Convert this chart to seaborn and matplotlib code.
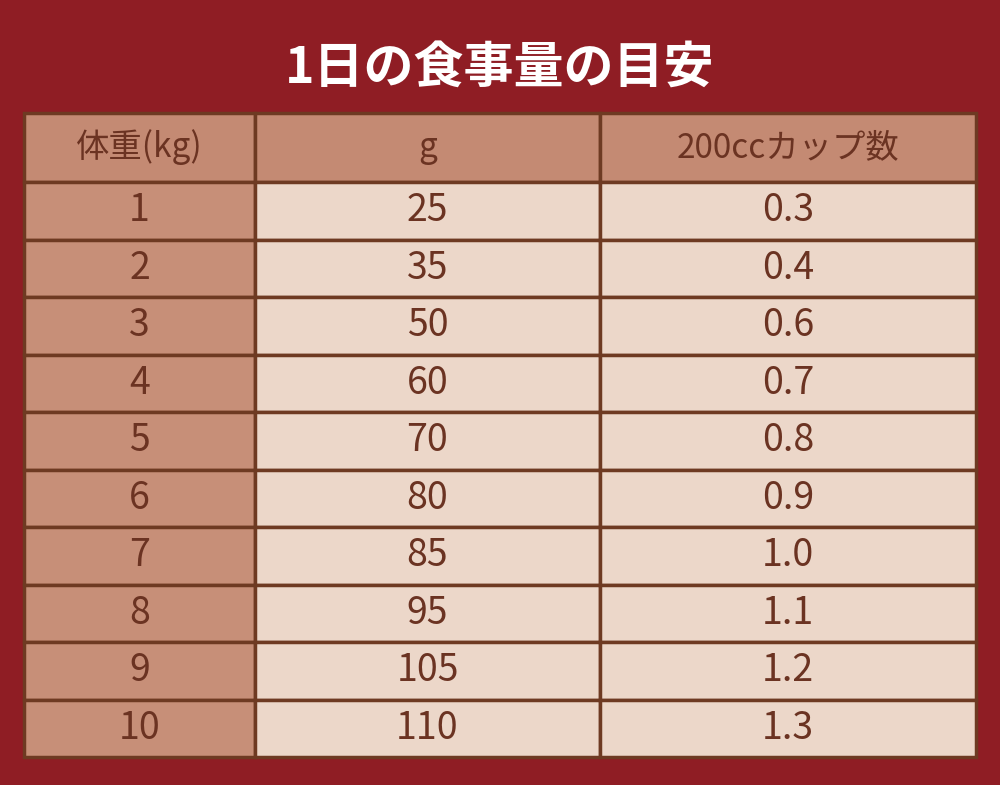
import matplotlib
matplotlib.use("Agg")
import matplotlib.pyplot as plt
import matplotlib.patches as patches
import seaborn as sns

title = "1日の食事量の目安"
headers = ["体重(kg)", "g", "200ccカップ数"]
weights = ["1", "2", "3", "4", "5", "6", "7", "8", "9", "10"]
grams = ["25", "35", "50", "60", "70", "80", "85", "95", "105", "110"]
cups = ["0.3", "0.4", "0.6", "0.7", "0.8", "0.9", "1.0", "1.1", "1.2", "1.3"]

sns.set_theme(style="white")
plt.rcParams['font.family'] = ['Noto Sans CJK JP', 'DejaVu Sans']

bg = "#8f1d24"
head_c = "#c48a73"
first_c = "#c78f78"
body_c = "#ecd7c9"
line_c = "#6e3a22"
text_c = "#6b3322"

fig = plt.figure(figsize=(10, 7.85), dpi=100)
fig.patch.set_facecolor(bg)
ax = fig.add_axes([0, 0, 1, 1])
ax.set_xlim(0, 1000)
ax.set_ylim(785, 0)
ax.axis("off")

col_edges = [24, 255, 600, 976]
top, head_h, row_h = 113, 69, 57.5

ax.text(500, 68, title, color="white", fontsize=36, fontweight="bold",
        ha="center", va="center")

columns = [weights, grams, cups]
n_rows = len(weights)
for c in range(3):
    x0, x1 = col_edges[c], col_edges[c + 1]
    cx = (x0 + x1) / 2
    ax.add_patch(patches.Rectangle((x0, top), x1 - x0, head_h, facecolor=head_c,
                                   edgecolor=line_c, linewidth=2.5))
    ax.text(cx, top + head_h / 2, headers[c], color=text_c, fontsize=24,
            ha="center", va="center")
    for r in range(n_rows):
        y0 = top + head_h + r * row_h
        fc = first_c if c == 0 else body_c
        ax.add_patch(patches.Rectangle((x0, y0), x1 - x0, row_h, facecolor=fc,
                                       edgecolor=line_c, linewidth=2.5))
        ax.text(cx, y0 + row_h / 2, columns[c][r], color=text_c, fontsize=27,
                ha="center", va="center")

fig.savefig("out.png", dpi=100, facecolor=bg)
